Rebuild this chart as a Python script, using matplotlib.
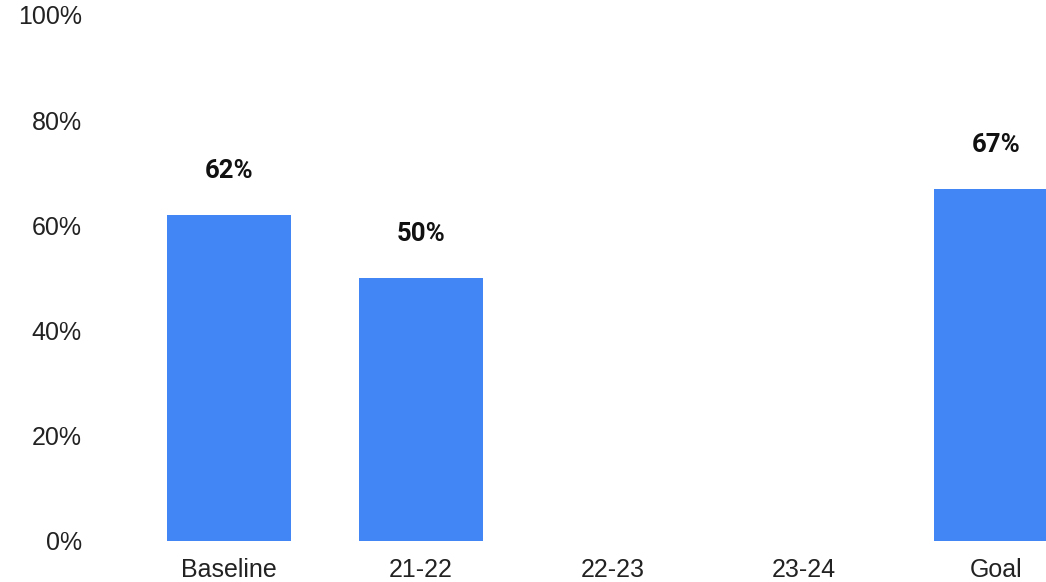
import matplotlib
matplotlib.use("Agg")
import matplotlib.pyplot as plt
import numpy as np

categories = ["Baseline", "21-22", "22-23", "23-24", "Goal"]
values = [62, 50, None, None, 67]
yticks = [0, 20, 40, 60, 80, 100]
ytick_labels = ["0%", "20%", "40%", "60%", "80%", "100%"]

W, H = 1046, 582
fig = plt.figure(figsize=(W / 100, H / 100), dpi=100)
ax_left = 100 / W
ax_bottom = 1 - 541 / H
ax_top = 1 - 15 / H
ax = fig.add_axes([ax_left, ax_bottom, 1 - ax_left, ax_top - ax_bottom])

x = np.arange(len(categories))
bar_color = "#4285F4"
for xi, v in zip(x, values):
    if v is None:
        continue
    ax.bar(xi, v, width=0.647, color=bar_color, zorder=2)
    ax.annotate(f"{v}%", (xi, v), xytext=(0, 31.5), textcoords="offset points",
                ha="center", va="center", fontsize=18.5, fontweight="bold",
                family="Roboto", color="#111111")

px_per_unit = 191.75
ax.set_xlim((100 - 229) / px_per_unit, (1046 - 229) / px_per_unit)
ax.set_ylim(0, 100)
ax.set_xticks(x)
ax.set_xticklabels(categories, fontsize=18, family="Liberation Sans", color="#222222")
ax.set_yticks(yticks)
ax.set_yticklabels(ytick_labels, fontsize=18, family="Liberation Sans", color="#222222")
ax.tick_params(axis="both", length=0)
ax.tick_params(axis="x", pad=12)
ax.tick_params(axis="y", pad=13)
for s in ax.spines.values():
    s.set_visible(False)

fig.savefig("out.png", dpi=100)
